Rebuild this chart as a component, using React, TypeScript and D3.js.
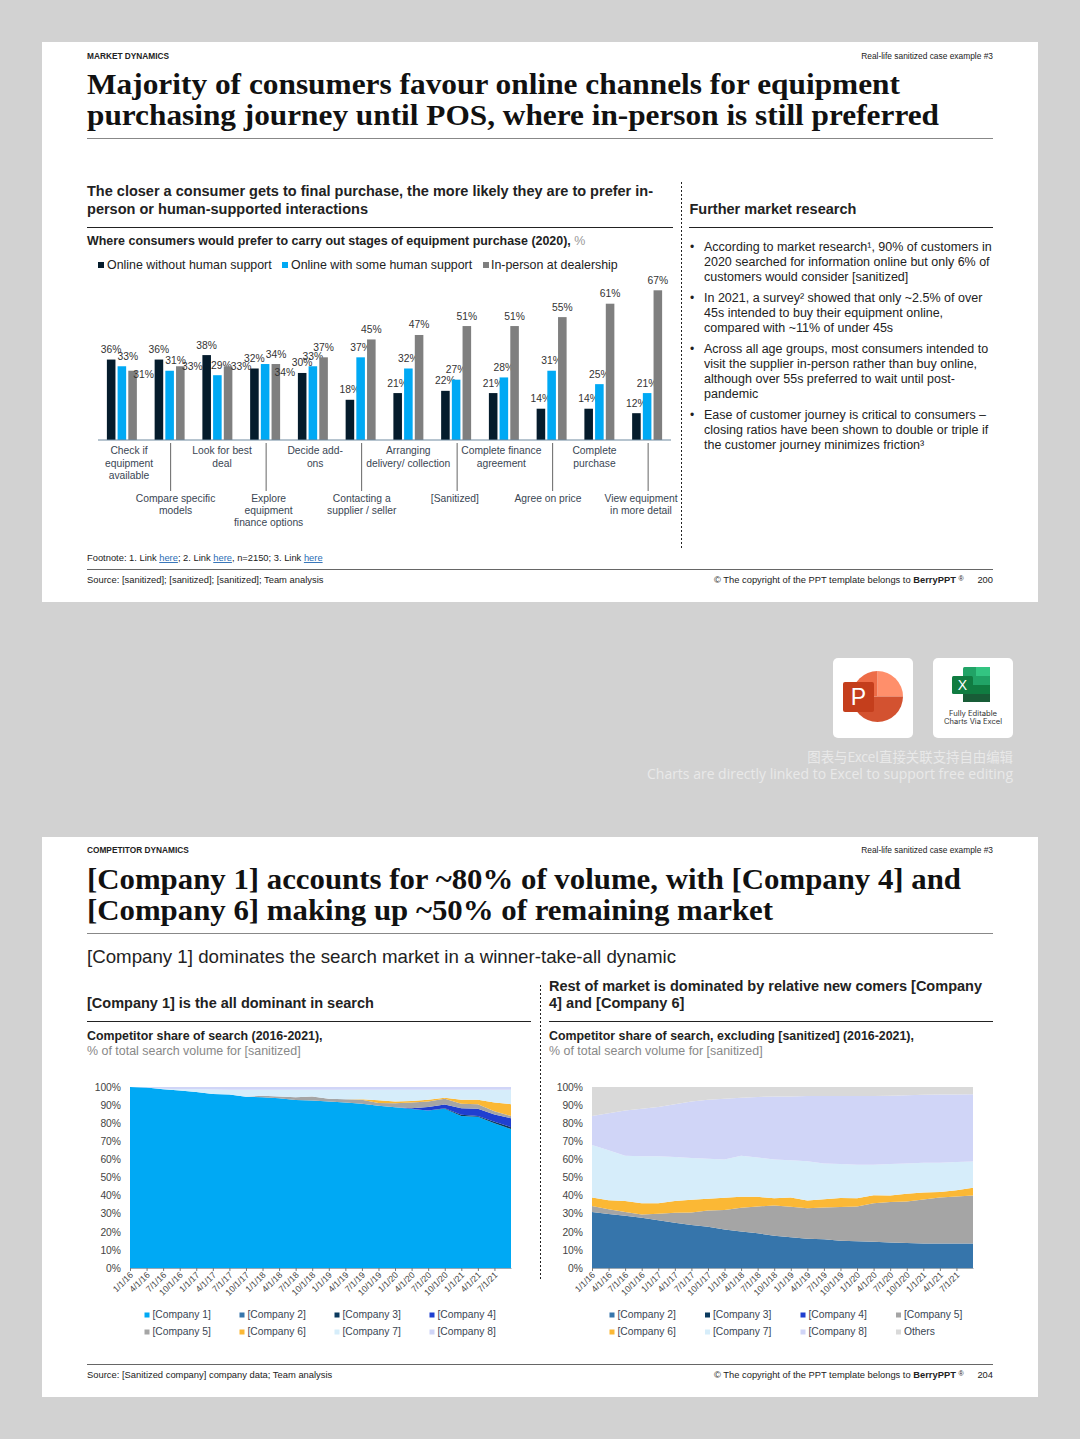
import React, { useEffect, useRef } from 'react';
import * as d3 from 'd3';

const SANS = 'Liberation Sans, Arial, sans-serif';
const SERIF = 'Liberation Serif, serif';

// bar chart data
const stages = ['Check if equipment available', 'Compare specific models', 'Look for best deal', 'Explore equipment finance options', 'Decide add-ons', 'Contacting a supplier / seller', 'Arranging delivery/ collection', '[Sanitized]', 'Complete finance agreement', 'Agree on price', 'Complete purchase', 'View equipment in more detail'];
const stageLines = [['Check if', 'equipment', 'available'], ['Compare specific', 'models'], ['Look for best', 'deal'], ['Explore', 'equipment', 'finance options'], ['Decide add-', 'ons'], ['Contacting a', 'supplier / seller'], ['Arranging', 'delivery/ collection'], ['[Sanitized]'], ['Complete finance', 'agreement'], ['Agree on price'], ['Complete', 'purchase'], ['View equipment', 'in more detail']];
const channels = ['Online without human support', 'Online with some human support', 'In-person at dealership'];
const onlineNoHuman = [36, 36, 38, 32, 30, 18, 21, 22, 21, 14, 14, 12];
const onlineSomeHuman = [33, 31, 29, 34, 33, 37, 32, 27, 28, 31, 25, 21];
const inPerson = [31, 33, 33, 34, 37, 45, 47, 51, 51, 55, 61, 67];
const channelColors = ['#051c2c', '#00a9f4', '#7f7f7f'];

// area chart data
const quarters = ['1/1/16', '4/1/16', '7/1/16', '10/1/16', '1/1/17', '4/1/17', '7/1/17', '10/1/17', '1/1/18', '4/1/18', '7/1/18', '10/1/18', '1/1/19', '4/1/19', '7/1/19', '10/1/19', '1/1/20', '4/1/20', '7/1/20', '10/1/20', '1/1/21', '4/1/21', '7/1/21', '10/1/21'];
const yTicks = [0, 10, 20, 30, 40, 50, 60, 70, 80, 90, 100];

const allCompany1 = [100, 99.7, 98.8, 98, 97.3, 96.2, 95.8, 94.6, 94.3, 93.8, 92.8, 92.5, 92, 91.4, 90.8, 89.6, 88.8, 87.8, 87, 88, 84, 83.5, 80, 76.8];
const allCompany2 = [0, 0, 0, 0, 0, 0, 0, 0, 0, 0, 0, 0, 0, 0, 0, 0, 0, 0, 0, 0, 0, 0, 0, 0];
const allCompany3 = [0, 0, 0, 0, 0, 0, 0, 0, 0, 0, 0, 0, 0, 0, 0, 0, 0, 0, 0, 0.3, 0.7, 0.5, 0.8, 1];
const allCompany4 = [0, 0, 0, 0, 0, 0, 0, 0, 0, 0, 0, 0, 0, 0, 0, 0, 0, 0.5, 2, 2, 3.5, 4, 4, 5];
const allCompany5 = [0, 0, 0, 0, 0, 0, 0, 0, 0.8, 1, 1.6, 2.2, 1.5, 1.8, 2.2, 1.5, 2.2, 3.2, 3, 3.2, 2.5, 2.5, 1.8, 1.2];
const allCompany6 = [0, 0, 0, 0, 0, 0, 0, 0, 0, 0, 0, 0, 0, 0, 0.3, 1.6, 1, 0.8, 1, 0.5, 2.3, 2.5, 4.9, 6.5];
const allCompany7 = [0, 0, 0.2, 0.8, 1.4, 2.4, 2.7, 3.9, 3.4, 3.7, 4.1, 3.8, 5, 5.3, 5.2, 5.8, 6.5, 6.2, 5.5, 4.5, 5.5, 5.5, 7, 8];
const allCompany8 = [0, 0.3, 1, 1.2, 1.3, 1.4, 1.5, 1.5, 1.5, 1.5, 1.5, 1.5, 1.5, 1.5, 1.5, 1.5, 1.5, 1.5, 1.5, 1.5, 1.5, 1.5, 1.5, 1.5];

const restCompany2 = [31, 29.8, 28.9, 27.7, 26.4, 25, 23.8, 22.8, 21.3, 20.2, 19.2, 17.8, 17, 16.2, 15.9, 15, 14.8, 14.5, 14.1, 13.8, 13.6, 13.6, 13.6, 13.5];
const restCompany3 = [0, 0, 0, 0, 0, 0, 0, 0, 0, 0, 0, 0, 0, 0, 0, 0, 0, 0, 0, 0, 0, 0, 0, 0];
const restCompany4 = [0, 0, 0, 0, 0, 0, 0, 0, 0, 0, 0, 0, 0, 0, 0, 0, 0, 0, 0, 0, 0, 0, 0, 0];
const restCompany5 = [3.3, 2.7, 2.1, 1.8, 3.6, 5.5, 6.9, 8.9, 10.7, 13.1, 14.8, 16.7, 16.8, 16.8, 17.5, 18.7, 19.2, 21.3, 22.4, 23, 24.2, 25.4, 25.9, 26.5];
const restCompany6 = [4.7, 5, 6, 6.3, 5.8, 6.5, 7, 6.5, 6.8, 6, 5.3, 4, 5.2, 4.3, 4.6, 5, 4.5, 4.4, 3.5, 4.2, 3.9, 3, 3.5, 4.3];
const restCompany7 = [29, 27.5, 25, 26, 25.9, 24.3, 23.1, 22.1, 21.2, 22.7, 21.7, 21.5, 20.5, 21.7, 19.8, 18.7, 18.5, 16.8, 17.5, 16.7, 16.5, 16.2, 15.6, 14.5];
const restCompany8 = [16, 20.5, 25, 26.2, 27.3, 29.2, 31.2, 32.7, 33.5, 32, 33.5, 34.7, 35.3, 36, 37.2, 37.6, 38, 38, 37.7, 37.8, 37.5, 37.6, 37.3, 37.2];
const restOthers = [16, 14.5, 13, 12, 11, 9.5, 8, 7, 6.5, 6, 5.5, 5.3, 5.2, 5, 5, 5, 5, 5, 4.8, 4.5, 4.3, 4.2, 4.1, 4];

const allNames = ['[Company 1]', '[Company 2]', '[Company 3]', '[Company 4]', '[Company 5]', '[Company 6]', '[Company 7]', '[Company 8]'];
const allColors = ['#00a9f4', '#3675ab', '#0b3a5e', '#1f3fd0', '#a5a5a5', '#fbb835', '#d6edfa', '#d0d5f7'];
const restNames = ['[Company 2]', '[Company 3]', '[Company 4]', '[Company 5]', '[Company 6]', '[Company 7]', '[Company 8]', 'Others'];
const restColors = ['#3675ab', '#0b3a5e', '#1f3fd0', '#a5a5a5', '#fbb835', '#d6edfa', '#d0d5f7', '#d9d9d9'];

const researchBullets = [
  ['According to market research¹, 90% of customers in', '2020 searched for information online but only 6% of', 'customers would consider [sanitized]'],
  ['In 2021, a survey² showed that only ~2.5% of over', '45s intended to buy their equipment online,', 'compared with ~11% of under 45s'],
  ['Across all age groups, most consumers intended to', 'visit the supplier in-person rather than buy online,', 'although over 55s preferred to wait until post-', 'pandemic'],
  ['Ease of customer journey is critical to consumers –', 'closing ratios have been shown to double or triple if', 'the customer journey minimizes friction³'],
];

// label shifts where the source labels were dragged off their bars [series, stage, dx, dy]
const labelShifts: [number, number, number, number][] = [
  [1, 0, 6, 0], [2, 0, 11, 14], [1, 1, 6, 0], [2, 1, 12, 10], [1, 2, 4, 0], [2, 2, 13, 10],
  [1, 3, 11, 0], [2, 3, 9, 18],
];

function T({ x, y, s = 12, w, fill = '#222', a, f = SANS, len, children }: any) {
  return (
    <text x={x} y={y} fontSize={s} fontWeight={w} fill={fill} textAnchor={a} fontFamily={f}
      textLength={len} lengthAdjust={len ? 'spacingAndGlyphs' : undefined}>{children}</text>
  );
}

function BarChart() {
  const baseY = 440;
  const x0 = d3.scaleBand<number>().domain(d3.range(stages.length)).range([98, 671]);
  const x1 = d3.scaleBand<number>().domain([0, 1, 2]).range([0, x0.bandwidth()]).paddingInner(0.2).paddingOuter(0.83);
  const y = d3.scaleLinear().domain([0, 67]).range([baseY, 290.3]);
  const labelX = d3.scaleLinear().domain([0, 11]).range([129, 641]);
  const series = [onlineNoHuman, onlineSomeHuman, inPerson];
  return (
    <g>
      {series.map((vals, si) => vals.map((v, i) => {
        const sh = labelShifts.find(l => l[0] === si && l[1] === i);
        const cx = x0(i)! + x1(si)! + x1.bandwidth() / 2;
        return (
          <g key={`${si}-${i}`}>
            <rect x={x0(i)! + x1(si)!} y={y(v)} width={x1.bandwidth()} height={baseY - y(v)} fill={channelColors[si]} />
            <T x={cx + (sh ? sh[2] : 0)} y={y(v) - 6.5 + (sh ? sh[3] : 0)} s={10.3} a="middle" fill="#333">{v}%</T>
          </g>
        );
      }))}
      <line x1={98} x2={671} y1={baseY} y2={baseY} stroke="#6f8aa0" strokeWidth={1.2} />
      {stageLines.map((lines, i) => {
        const low = i % 2 === 1;
        return (
          <g key={i}>
            {low && <line x1={x0(i)! + x0.bandwidth() / 2 + 1} x2={x0(i)! + x0.bandwidth() / 2 + 1} y1={443} y2={491} stroke="#555" strokeWidth={0.9} />}
            {lines.map((l, k) => (
              <T key={k} x={labelX(i)} y={(low ? 501.5 : 454.2) + k * 12.4} s={10.3} a="middle" fill="#3a4654">{l}</T>
            ))}
          </g>
        );
      })}
    </g>
  );
}

function AreaChart({ left, series, colors, names, legendX, textX }: any) {
  const ref = useRef<SVGGElement>(null);
  const x = d3.scalePoint<string>().domain(quarters).range([left, left + 381]);
  const y = d3.scaleLinear().domain([0, 100]).range([1268, 1087]);

  useEffect(() => {
    if (!ref.current) return;
    const g = d3.select(ref.current);
    g.selectAll('*').remove();

    const rows = quarters.map((q, i) => {
      const r: any = { q };
      names.forEach((n: string, k: number) => { r[n] = series[k][i]; });
      return r;
    });
    const layers = d3.stack<any>().keys(names).order(d3.stackOrderNone).offset(d3.stackOffsetNone)(rows);
    const area = d3.area<any>()
      .x(d => x(d.data.q)!)
      .y0(d => y(d[0]))
      .y1(d => y(d[1]));

    g.selectAll('path.layer')
      .data(layers)
      .enter()
      .append('path')
      .attr('class', 'layer')
      .attr('d', area)
      .attr('fill', (_, i) => colors[i]);

    const xAxis = g.append('g')
      .attr('transform', 'translate(0,1268)')
      .call(d3.axisBottom(x).tickValues(quarters.slice(0, 23)).tickSize(3).tickSizeOuter(0));
    xAxis.select('.domain').attr('stroke', '#9aa7b2');
    xAxis.selectAll('.tick line').attr('stroke', '#777');
    xAxis.selectAll('text')
      .attr('transform', 'rotate(-45)')
      .attr('text-anchor', 'end')
      .attr('x', -3)
      .attr('y', 5)
      .attr('dy', '0.3em')
      .attr('fill', '#444')
      .attr('font-size', 8.8)
      .attr('font-family', SANS);

    const yAxis = g.append('g')
      .attr('transform', `translate(${left},0)`)
      .call(d3.axisLeft(y).tickValues(yTicks).tickFormat(d => `${d}%`).tickSize(0).tickPadding(9));
    yAxis.select('.domain').attr('stroke', 'none');
    yAxis.selectAll('text')
      .attr('fill', '#444')
      .attr('font-size', 10.3)
      .attr('font-family', SANS);
  }, []);

  const legendStep = (legendX[1] - legendX[0]);
  return (
    <g>
      <g ref={ref} />
      {names.map((n: string, i: number) => {
        const col = i % 4;
        const ly = i < 4 ? 1315 : 1332;
        return (
          <g key={n}>
            <rect x={legendX[0] + col * legendStep - 2.5} y={ly - 2.5} width={5} height={5} fill={colors[i]} />
            <T x={textX + col * legendStep} y={ly + 3} s={10.3} fill="#3a4654">{n}</T>
          </g>
        );
      })}
    </g>
  );
}

function Icons() {
  return (
    <g>
      <rect x={833} y={658} width={80} height={80} rx={5} fill="#fff" />
      <rect x={933} y={658} width={80} height={80} rx={5} fill="#fff" />
      <path d="M877.5 696.5 V671 A25.5 25.5 0 0 1 903 696.5 Z" fill="#ff8f6b" />
      <path d="M903 696.5 A25.5 25.5 0 0 1 852 696.5 Z" fill="#d35230" />
      <path d="M877.5 696.5 V671 A25.5 25.5 0 0 0 852 696.5 Z" fill="#ed6c47" />
      <rect x={843} y={682} width={31} height={30} rx={2} fill="#c43e1c" />
      <T x={858.5} y={705} s={23} a="middle" fill="#fff">P</T>
      <rect x={963} y={667} width={27} height={35} rx={1.5} fill="#21a366" />
      <rect x={976} y={667} width={14} height={9} fill="#33c481" />
      <rect x={963} y={676} width={13} height={9} fill="#21a366" />
      <rect x={976} y={676} width={14} height={9} fill="#21a366" />
      <rect x={963} y={685} width={13} height={9} fill="#107c41" />
      <rect x={976} y={685} width={14} height={9} fill="#107c41" />
      <rect x={963} y={694} width={27} height={8} fill="#185c37" />
      <rect x={952} y={676} width={21} height={18} rx={1.5} fill="#107c41" />
      <T x={962.5} y={690} s={14} a="middle" fill="#fff">X</T>
      <T x={973} y={715.5} s={7} a="middle" f="Inter, sans-serif" fill="#333" len={48}>Fully Editable</T>
      <T x={973} y={724} s={7} a="middle" f="Inter, sans-serif" fill="#333" len={58}>Charts Via Excel</T>
      <T x={1013} y={762} s={13.4} a="end" f="Noto Sans CJK SC, sans-serif" fill="#e9e9e9">图表与Excel直接关联支持自由编辑</T>
      <T x={1013} y={779} s={14.5} a="end" f="Open Sans, sans-serif" fill="#e9e9e9" len={366}>Charts are directly linked to Excel to support free editing</T>
    </g>
  );
}

function Copyright({ y, page }: { y: number; page: string }) {
  return (
    <g>
      <text x={714} y={y} fontSize={9.35} fontFamily={SANS} fill="#222">© The copyright of the PPT template belongs to <tspan fontWeight={700}>BerryPPT</tspan> <tspan fontSize={7} dy={-2}>®</tspan></text>
      <T x={993} y={y} s={9.35} a="end">{page}</T>
    </g>
  );
}

export default function App() {
  return (
    <svg width={1080} height={1439} viewBox="0 0 1080 1439" style={{ position: 'absolute', left: 0, top: 0 }}>
      <rect width={1080} height={1439} fill="#d2d2d2" />

      {/* first slide */}
      <rect x={42} y={42} width={996} height={560} fill="#fff" />
      <T x={87} y={58.5} s={8.3} w={700}>MARKET DYNAMICS</T>
      <T x={993} y={59} s={8.4} a="end">Real-life sanitized case example #3</T>
      <T x={87} y={94} s={29} w={700} f={SERIF} fill="#111" len={813}>Majority of consumers favour online channels for equipment</T>
      <T x={87} y={125} s={29} w={700} f={SERIF} fill="#111" len={852}>purchasing journey until POS, where in-person is still preferred</T>
      <line x1={87} x2={993} y1={138.5} y2={138.5} stroke="#888" />

      <T x={87} y={196} s={14.3} w={700} len={566}>The closer a consumer gets to final purchase, the more likely they are to prefer in-</T>
      <T x={87} y={213.5} s={14.3} w={700} len={281}>person or human-supported interactions</T>
      <line x1={87} x2={673} y1={227.5} y2={227.5} stroke="#222" />
      <text x={87} y={245} fontSize={12.45} fontFamily={SANS} fontWeight={700} fill="#222">Where consumers would prefer to carry out stages of equipment purchase (2020), <tspan fill="#999" fontWeight={400}>%</tspan></text>

      {channels.map((c, i) => (
        <g key={c}>
          <rect x={[98, 282, 483][i]} y={262} width={6} height={6} fill={channelColors[i]} />
          <T x={[107, 291, 491][i]} y={269} s={12.4} fill="#222">{c}</T>
        </g>
      ))}
      <BarChart />

      <line x1={681.5} x2={681.5} y1={182} y2={550} stroke="#222" strokeDasharray="2 2" />
      <T x={689.5} y={213.5} s={14.5} w={700}>Further market research</T>
      <line x1={689} x2={993} y1={227.5} y2={227.5} stroke="#222" />
      {researchBullets.map((lines, b) => {
        const top = [251, 302, 353, 419][b];
        return (
          <g key={b}>
            <T x={690} y={top} s={12}>•</T>
            {lines.map((l, k) => <T key={k} x={704} y={top + k * 15} s={12.5}>{l}</T>)}
          </g>
        );
      })}

      <text x={87} y={561} fontSize={9.35} fontFamily={SANS} fill="#222">Footnote: 1. Link <tspan fill="#2a6db5" textDecoration="underline">here</tspan>; 2. Link <tspan fill="#2a6db5" textDecoration="underline">here</tspan>, n=2150; 3. Link <tspan fill="#2a6db5" textDecoration="underline">here</tspan></text>
      <line x1={87} x2={993} y1={569.5} y2={569.5} stroke="#666" />
      <T x={87} y={583} s={9.4}>Source: [sanitized]; [sanitized]; [sanitized]; Team analysis</T>
      <Copyright y={583} page="200" />

      <Icons />

      {/* second slide */}
      <rect x={42} y={837} width={996} height={560} fill="#fff" />
      <T x={87} y={853} s={8.3} w={700}>COMPETITOR DYNAMICS</T>
      <T x={993} y={853} s={8.4} a="end">Real-life sanitized case example #3</T>
      <T x={87} y={889} s={29} w={700} f={SERIF} fill="#111" len={874}>[Company 1] accounts for ~80% of volume, with [Company 4] and</T>
      <T x={87} y={920} s={29} w={700} f={SERIF} fill="#111" len={686}>[Company 6] making up ~50% of remaining market</T>
      <line x1={87} x2={993} y1={933.5} y2={933.5} stroke="#888" />
      <T x={87} y={963} s={18.5} len={589}>[Company 1] dominates the search market in a winner-take-all dynamic</T>

      <T x={87} y={1008} s={14.5} w={700}>[Company 1] is the all dominant in search</T>
      <T x={549} y={990.5} s={14.5} w={700} len={433}>Rest of market is dominated by relative new comers [Company</T>
      <T x={549} y={1008} s={14.6} w={700}>4] and [Company 6]</T>
      <line x1={87} x2={531} y1={1021.5} y2={1021.5} stroke="#222" />
      <line x1={549} x2={993} y1={1021.5} y2={1021.5} stroke="#222" />
      <T x={87} y={1040} s={12.4} w={700}>Competitor share of search (2016-2021),</T>
      <T x={87} y={1055} s={12.45} fill="#888">% of total search volume for [sanitized]</T>
      <T x={549} y={1040} s={12.4} w={700}>Competitor share of search, excluding [sanitized] (2016-2021),</T>
      <T x={549} y={1055} s={12.45} fill="#888">% of total search volume for [sanitized]</T>
      <line x1={540.5} x2={540.5} y1={985} y2={1281} stroke="#222" strokeDasharray="2 2" />

      <AreaChart left={130} colors={allColors} names={allNames} legendX={[147, 242]} textX={152.5}
        series={[allCompany1, allCompany2, allCompany3, allCompany4, allCompany5, allCompany6, allCompany7, allCompany8]} />
      <AreaChart left={592} colors={restColors} names={restNames} legendX={[612, 707.5]} textX={617.5}
        series={[restCompany2, restCompany3, restCompany4, restCompany5, restCompany6, restCompany7, restCompany8, restOthers]} />

      <line x1={87} x2={993} y1={1364.5} y2={1364.5} stroke="#666" />
      <T x={87} y={1378} s={9.4}>Source: [Sanitized company] company data; Team analysis</T>
      <Copyright y={1378} page="204" />
    </svg>
  );
}
